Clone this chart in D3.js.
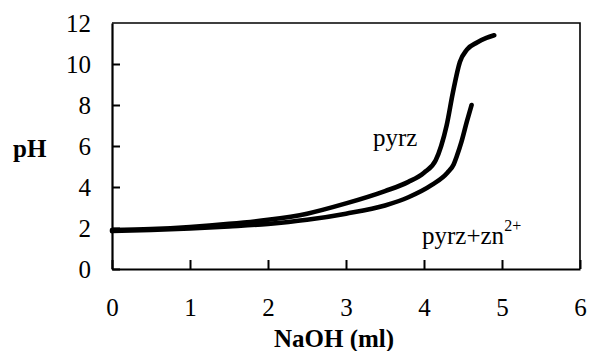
<!DOCTYPE html>
<html>
<head>
<meta charset="utf-8">
<script src="https://cdn.jsdelivr.net/npm/d3@7"></script>
<style>
  html, body { margin: 0; padding: 0; background: #fff; }
  svg { display: block; }
</style>
</head>
<body>
<svg id="chart" width="590" height="351"></svg>
<script>
// ---- data ----
const xTicks = [0, 1, 2, 3, 4, 5, 6];
const yTicks = [0, 2, 4, 6, 8, 10, 12];

const pyrzX  = [0, 0.5, 1, 1.5, 2, 2.5, 3, 3.5, 3.8, 4.0, 4.15, 4.22, 4.29, 4.37, 4.46, 4.55, 4.68, 4.8, 4.9];
const pyrzY  = [1.9, 1.95, 2.05, 2.2, 2.4, 2.7, 3.2, 3.8, 4.25, 4.7, 5.3, 6.0, 7.0, 8.6, 10.1, 10.7, 11.05, 11.27, 11.4];

const znX    = [0, 0.5, 1, 1.5, 2, 2.5, 3, 3.5, 3.8, 4.1, 4.3, 4.38, 4.42, 4.48, 4.55, 4.61];
const znY    = [1.85, 1.9, 1.98, 2.08, 2.2, 2.4, 2.7, 3.1, 3.5, 4.1, 4.7, 5.1, 5.5, 6.2, 7.2, 8.0];

const xTitle = "NaOH (ml)";
const yTitle = "pH";
const label1 = "pyrz";
const label2 = "pyrz+zn";
const label2sup = "2+";

// ---- layout ----
const FONT = "'Liberation Serif', 'Times New Roman', Times, serif";
const svg = d3.select("#chart").style("font-family", FONT);
const mLeft = 112, mRight = 580, mTop = 23, mBottom = 269;
const x = d3.scaleLinear().domain([0, 6]).range([mLeft, mRight]);
const y = d3.scaleLinear().domain([0, 12]).range([mBottom, mTop]);
const FS = 25;

// plot frame (top/right)
svg.append("path")
  .attr("d", `M${mLeft},${mTop}H${mRight}V${mBottom}`)
  .attr("fill", "none").attr("stroke", "#000").attr("stroke-width", 1.6);

// axes
const gx = svg.append("g").attr("transform", `translate(0,${mBottom})`)
  .call(d3.axisBottom(x).tickValues(xTicks).tickFormat(d3.format("d"))
    .tickSizeInner(-9).tickSizeOuter(0).tickPadding(29));
const gy = svg.append("g").attr("transform", `translate(${mLeft},0)`)
  .call(d3.axisLeft(y).tickValues(yTicks).tickFormat(d3.format("d"))
    .tickSizeInner(-8).tickSizeOuter(0).tickPadding(21));

[gx, gy].forEach(g => {
  g.attr("font-family", null).attr("font-size", null);
  g.select(".domain").attr("stroke", "#000").attr("stroke-width", 2.2);
  g.selectAll(".tick line").attr("stroke", "#000").attr("stroke-width", 2);
  g.selectAll(".tick text")
    .style("font-family", FONT)
    .style("font-size", FS + "px").attr("fill", "#000");
});
gy.selectAll(".tick").filter(d => d === 12).select("line").remove();

// curves
const line = d3.line().x(d => x(d[0])).y(d => y(d[1])).curve(d3.curveMonotoneX);
svg.append("path").datum(pyrzX.map((v, i) => [v, pyrzY[i]]))
  .attr("d", line).attr("fill", "none").attr("stroke", "#000")
  .attr("stroke-width", 4.6).attr("stroke-linecap", "round").attr("stroke-linejoin", "round");
svg.append("path").datum(znX.map((v, i) => [v, znY[i]]))
  .attr("d", line).attr("fill", "none").attr("stroke", "#000")
  .attr("stroke-width", 4.6).attr("stroke-linecap", "round").attr("stroke-linejoin", "round");

// titles
svg.append("text").attr("x", 334).attr("y", 347).attr("text-anchor", "middle")
  .style("font-family", FONT).style("font-size", FS + "px").style("font-weight", "bold").text(xTitle);
svg.append("text").attr("x", 13).attr("y", 157)
  .style("font-family", FONT).style("font-size", FS + "px").style("font-weight", "bold").text(yTitle);

// series labels
svg.append("text").attr("x", 373).attr("y", 146)
  .style("font-family", FONT).style("font-size", FS + "px").text(label1);
const t2 = svg.append("text").attr("x", 422).attr("y", 244)
  .style("font-family", FONT).style("font-size", FS + "px");
t2.append("tspan").text(label2);
t2.append("tspan").attr("dy", -13).style("font-size", "16px").text(label2sup);
</script>
</body>
</html>
